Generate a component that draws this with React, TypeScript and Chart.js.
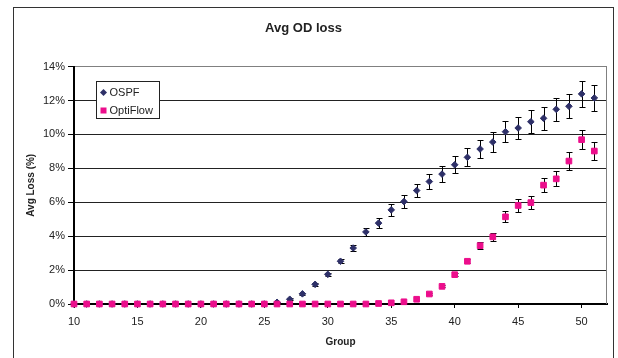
import React, { useEffect, useRef } from 'react';
import { Chart, registerables } from 'chart.js';

Chart.register(...registerables);

const groups = [10, 11, 12, 13, 14, 15, 16, 17, 18, 19, 20, 21, 22, 23, 24, 25, 26, 27, 28, 29, 30, 31, 32, 33, 34, 35, 36, 37, 38, 39, 40, 41, 42, 43, 44, 45, 46, 47, 48, 49, 50, 51];

const ospfLoss = [0, 0, 0, 0, 0, 0, 0, 0, 0, 0, 0, 0, 0, 0, 0, 0,
  0.1, 0.28, 0.6, 1.16, 1.75, 2.52, 3.3, 4.25, 4.77, 5.55, 6.04, 6.69, 7.22, 7.66, 8.21, 8.65, 9.14, 9.55, 10.16, 10.38, 10.75, 10.95, 11.48, 11.66, 12.39, 12.15];
const ospfErr = [0, 0, 0, 0, 0, 0, 0, 0, 0, 0, 0, 0, 0, 0, 0, 0,
  0.03, 0.05, 0.06, 0.08, 0.1, 0.13, 0.18, 0.25, 0.3, 0.35, 0.37, 0.39, 0.45, 0.46, 0.51, 0.53, 0.55, 0.58, 0.63, 0.65, 0.67, 0.66, 0.68, 0.7, 0.77, 0.74];

const optiflowLoss = [0, 0, 0, 0, 0, 0, 0, 0, 0, 0, 0, 0, 0, 0, 0, 0, 0, 0, 0, 0, 0, 0, 0, 0,
  0.03, 0.07, 0.13, 0.28, 0.59, 1.04, 1.73, 2.52, 3.44, 3.96, 5.14, 5.81, 5.98, 7.01, 7.38, 8.43, 9.69, 9.02];
const optiflowErr = [0, 0, 0, 0, 0, 0, 0, 0, 0, 0, 0, 0, 0, 0, 0, 0, 0, 0, 0, 0, 0, 0, 0, 0, 0, 0, 0, 0,
  0.04, 0.06, 0.08, 0.12, 0.22, 0.25, 0.33, 0.38, 0.37, 0.43, 0.44, 0.52, 0.55, 0.55];

const xTickValues = [10, 15, 20, 25, 30, 35, 40, 45, 50];
const yTickValues = [0, 2, 4, 6, 8, 10, 12, 14];
const seriesNames = ['OSPF', 'OptiFlow'];
const chartTitle = 'Avg OD loss';
const xTitle = 'Group';
const yTitle = 'Avg Loss (%)';

const FONT = "'Liberation Sans', Arial, sans-serif";
const OSPF_COLOR = '#2E3068';
const OPTI_COLOR = '#EC0E8C';

const errorBarPlugin = {
  id: 'errorBars',
  beforeDatasetsDraw(chart: any) {
    const { ctx, scales } = chart;
    const x = scales.x, y = scales.y;
    ctx.save();
    ctx.strokeStyle = '#000';
    ctx.lineWidth = 1;
    const sets: [number[], number[]][] = [[ospfLoss, ospfErr], [optiflowLoss, optiflowErr]];
    sets.forEach(([vals, errs]) => {
      groups.forEach((g, i) => {
        const e = errs[i];
        if (!e) return;
        const px = Math.round(x.getPixelForValue(g)) + 0.5;
        const top = Math.round(y.getPixelForValue(vals[i] + e)) + 0.5;
        const bot = Math.round(y.getPixelForValue(vals[i] - e)) + 0.5;
        ctx.beginPath();
        ctx.moveTo(px, top);
        ctx.lineTo(px, bot);
        ctx.moveTo(px - 3, top);
        ctx.lineTo(px + 3, top);
        ctx.moveTo(px - 3, bot);
        ctx.lineTo(px + 3, bot);
        ctx.stroke();
      });
    });
    ctx.restore();
  },
};

const framePlugin = {
  id: 'frameAndLegend',
  afterDraw(chart: any) {
    const { ctx, chartArea } = chart;
    ctx.save();
    // right border of plot area
    ctx.strokeStyle = '#808080';
    ctx.lineWidth = 1;
    ctx.beginPath();
    ctx.moveTo(Math.round(chartArea.right) - 0.5, chartArea.top);
    ctx.lineTo(Math.round(chartArea.right) - 0.5, chartArea.bottom);
    ctx.stroke();
    // outer frame
    ctx.strokeStyle = '#333';
    ctx.strokeRect(13.5, 7.5, 600, 420);
    // legend box
    const lx = 96.5, ly = 81.5, lw = 63, lh = 37;
    ctx.fillStyle = '#fff';
    ctx.fillRect(lx, ly, lw, lh);
    ctx.strokeStyle = '#222';
    ctx.strokeRect(lx, ly, lw, lh);
    // OSPF entry
    const r1y = 92.5, r2y = 110.5, mx = 103.5;
    ctx.fillStyle = OSPF_COLOR;
    ctx.beginPath();
    ctx.moveTo(mx - 3.5, r1y);
    ctx.lineTo(mx, r1y - 3.5);
    ctx.lineTo(mx + 3.5, r1y);
    ctx.lineTo(mx, r1y + 3.5);
    ctx.closePath();
    ctx.fill();
    ctx.fillStyle = OPTI_COLOR;
    ctx.fillRect(mx - 3, r2y - 3, 6, 6);
    ctx.fillStyle = '#222';
    ctx.font = `11px ${FONT}`;
    ctx.textBaseline = 'middle';
    ctx.textAlign = 'left';
    ctx.fillText(seriesNames[0], 109.5, r1y);
    ctx.fillText(seriesNames[1], 109.5, r2y);
    ctx.restore();
  },
};

export default function App() {
  const canvasRef = useRef<HTMLCanvasElement | null>(null);

  useEffect(() => {
    if (!canvasRef.current) return;
    Chart.defaults.font.family = FONT;
    const chart = new Chart(canvasRef.current, {
      type: 'scatter',
      data: {
        datasets: [
          {
            label: seriesNames[0],
            data: groups.map((g, i) => ({ x: g, y: ospfLoss[i] })),
            pointStyle: 'rectRot',
            pointRadius: 3.3,
            borderWidth: 1,
            backgroundColor: OSPF_COLOR,
            borderColor: OSPF_COLOR,
            showLine: false,
            clip: false as any,
            order: 1,
          },
          {
            label: seriesNames[1],
            data: groups.map((g, i) => ({ x: g, y: optiflowLoss[i] })),
            pointStyle: 'rect',
            pointRadius: 4,
            borderWidth: 1,
            backgroundColor: OPTI_COLOR,
            borderColor: OPTI_COLOR,
            showLine: false,
            clip: false as any,
            order: 0,
          },
        ],
      },
      options: {
        animation: false,
        responsive: false,
        events: [],
        layout: { padding: { left: 0, right: 11, top: 0, bottom: 0 } },
        plugins: {
          legend: { display: false },
          tooltip: { enabled: false },
          title: {
            display: true,
            text: chartTitle,
            color: '#222',
            font: { family: FONT, size: 13, weight: 'bold' },
            padding: { top: 21, bottom: 30 },
          },
        },
        scales: {
          x: {
            type: 'linear',
            min: 10,
            max: 52,
            afterBuildTicks: (s: any) => { s.ticks = xTickValues.map((v) => ({ value: v })); },
            afterFit: (s: any) => { s.height = 54; },
            grid: { drawOnChartArea: false, drawTicks: true, tickLength: 4, tickColor: '#000', tickWidth: 1 },
            border: { display: true, color: '#000', width: 2 },
            ticks: { padding: 7, color: '#222', font: { family: FONT, size: 11 }, maxRotation: 0, autoSkip: false },
            title: { display: true, text: xTitle, color: '#222', font: { family: FONT, size: 10, weight: 'bold' }, padding: { top: 0, bottom: 10 } },
          },
          y: {
            type: 'linear',
            min: 0,
            max: 14,
            afterBuildTicks: (s: any) => { s.ticks = yTickValues.map((v) => ({ value: v })); },
            afterFit: (s: any) => { s.width = 74; },
            grid: {
              color: (c: any) => (c.tick && c.tick.value === 14 ? '#808080' : '#222'),
              lineWidth: 1,
              drawTicks: true,
              tickLength: 6,
              tickColor: '#000',
            },
            border: { display: true, color: '#000', width: 2 },
            ticks: { padding: 3, color: '#222', font: { family: FONT, size: 11 }, callback: (v: any) => `${v}%` },
            title: { display: true, text: yTitle, color: '#222', font: { family: FONT, size: 10, weight: 'bold' }, padding: { top: 25, bottom: 0 } },
          },
        },
      } as any,
      plugins: [errorBarPlugin, framePlugin],
    });
    return () => chart.destroy();
  }, []);

  return (
    <div style={{ position: 'fixed', left: 0, top: 0, width: 618, height: 358, background: '#fff' }}>
      <canvas ref={canvasRef} width={618} height={358} style={{ display: 'block' }} />
    </div>
  );
}
